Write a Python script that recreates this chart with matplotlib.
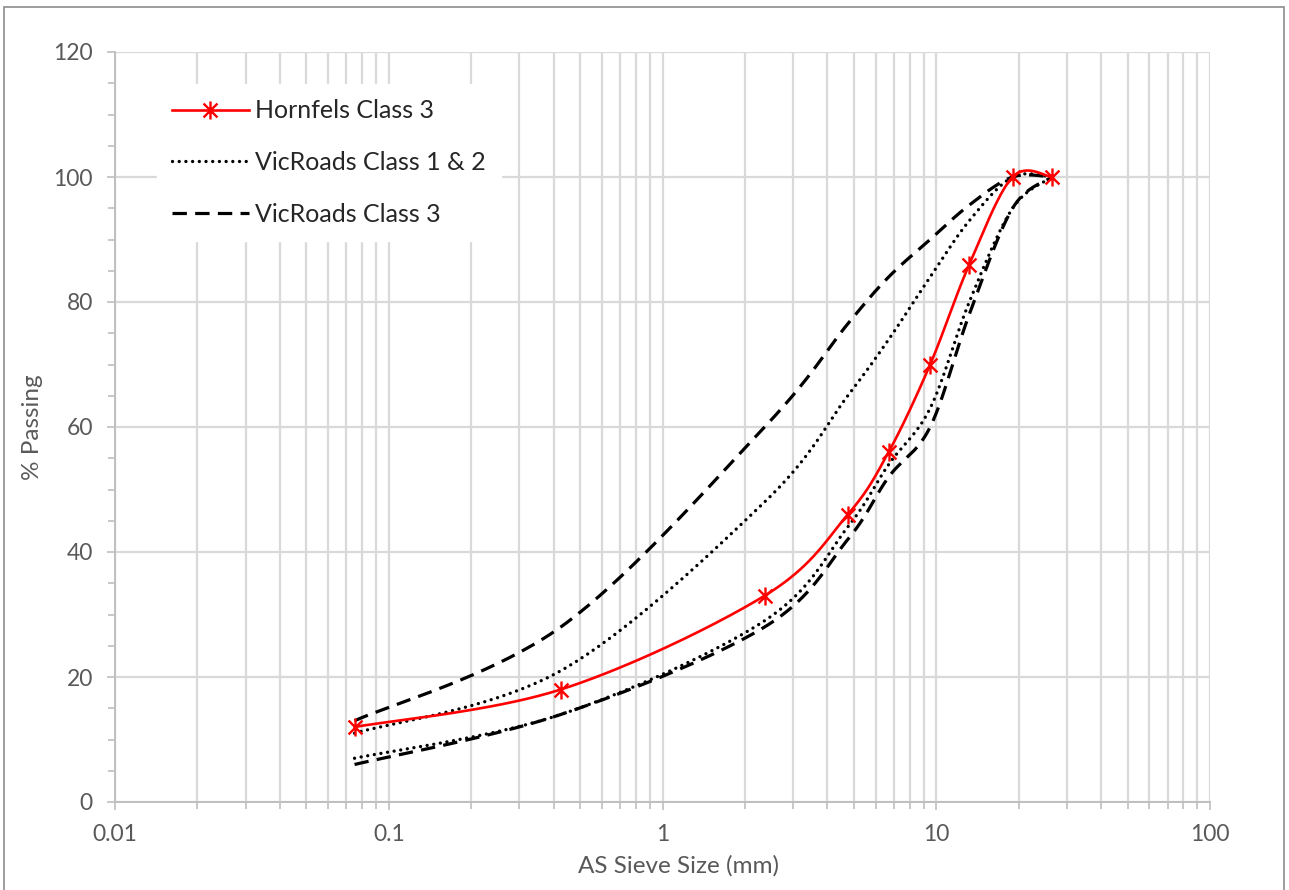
import numpy as np
import matplotlib
matplotlib.use("Agg")
import matplotlib.pyplot as plt
from matplotlib.path import Path
from matplotlib.patches import Rectangle
from matplotlib.ticker import FixedLocator, NullFormatter, FuncFormatter

# ---- data ----
sieve_mm = [0.075, 0.425, 2.36, 4.75, 6.7, 9.5, 13.2, 19.0, 26.5]
hornfels_c3 = [12, 18, 33, 46, 56, 70, 86, 100, 100]
vic12_upper = [11, 21, 48, 65, 74, 84, 93, 100, 100]
vic12_lower = [7, 14, 29, 44, 54, 63, 80, 95, 100]
vic3_upper = [13, 28, 60, 76.5, 84, 90, 95.5, 100, 100]
vic3_lower = [6, 14, 28, 42, 52, 60, 78, 95, 100]

x_ticks = [0.01, 0.1, 1, 10, 100]
x_ticklabels = ["0.01", "0.1", "1", "10", "100"]
y_ticks = [0, 20, 40, 60, 80, 100, 120]

FONT = "Lato"
GREY = "#595959"
plt.rcParams["font.family"] = [FONT, "DejaVu Sans"]


def smooth(xs, ys, n=40):
    """Excel-like smoothed line (uniform Catmull-Rom in log-x / y space)."""
    u = np.log10(np.asarray(xs, float))
    v = np.asarray(ys, float)
    P = np.column_stack([u, v])
    P = np.vstack([P[0], P, P[-1]])
    out = []
    t = np.linspace(0, 1, n)
    for i in range(1, len(P) - 2):
        p0, p1, p2, p3 = P[i - 1], P[i], P[i + 1], P[i + 2]
        c1 = p1 + (p2 - p0) / 6.0
        c2 = p2 - (p3 - p1) / 6.0
        seg = ((1 - t) ** 3)[:, None] * p1 + (3 * (1 - t) ** 2 * t)[:, None] * c1 \
            + (3 * (1 - t) * t ** 2)[:, None] * c2 + (t ** 3)[:, None] * p2
        out.append(seg if i == 1 else seg[1:])
    out = np.vstack(out)
    return 10 ** out[:, 0], out[:, 1]


W, H = 1289, 890
fig = plt.figure(figsize=(W / 100, H / 100), dpi=100)
ax = fig.add_axes([115 / W, 1 - 802 / H, (1210 - 115) / W, (802 - 52) / H])

# outer chart-area border
fig.patches.append(Rectangle((4 / W, -0.01), (1284 - 4) / W, 1.01 - 7 / H,
                             transform=fig.transFigure, fill=False,
                             edgecolor="#8c8c8c", linewidth=1.2))

ax.set_xscale("log")
ax.set_xlim(0.01, 100)
ax.set_ylim(0, 120)

# asterisk marker: X plus vertical bar
star = Path([(-1, -1), (1, 1), (-1, 1), (1, -1), (0, -1.3), (0, 1.3)],
            [Path.MOVETO, Path.LINETO, Path.MOVETO, Path.LINETO, Path.MOVETO, Path.LINETO])

dash_style = (0, (4.5, 2.6))
dot_style = (0, (0.01, 2.0))

xs, ys = smooth(sieve_mm, vic3_upper)
ax.plot(xs, ys, color="black", lw=2.3, linestyle=dash_style, zorder=3)
xs, ys = smooth(sieve_mm, vic3_lower)
ax.plot(xs, ys, color="black", lw=2.3, linestyle=dash_style, zorder=3)
xs, ys = smooth(sieve_mm, vic12_upper)
ax.plot(xs, ys, color="black", lw=2.4, linestyle=dot_style, dash_capstyle="round", zorder=3)
xs, ys = smooth(sieve_mm, vic12_lower)
ax.plot(xs, ys, color="black", lw=2.4, linestyle=dot_style, dash_capstyle="round", zorder=3)

xs, ys = smooth(sieve_mm, hornfels_c3)
ax.plot(xs, ys, color="#ff0000", lw=1.9, zorder=4)
ax.plot(sieve_mm, hornfels_c3, linestyle="none", marker=star, markersize=13,
        markeredgecolor="#ff0000", markeredgewidth=1.7, zorder=5)

# legend proxies
h1, = ax.plot([], [], color="#ff0000", lw=1.9, marker=star, markersize=13,
              markeredgecolor="#ff0000", markeredgewidth=1.7)
h2, = ax.plot([], [], color="black", lw=2.4, linestyle=dot_style, dash_capstyle="round")
h3, = ax.plot([], [], color="black", lw=2.3, linestyle=dash_style)
leg = ax.legend([h1, h2, h3], ["Hornfels Class 3", "VicRoads Class 1 & 2", "VicRoads Class 3"],
                loc="upper left", bbox_to_anchor=(0.038, 0.957), frameon=True,
                fancybox=False, framealpha=1, edgecolor="white", facecolor="white",
                fontsize=18, handlelength=3.1, handletextpad=0.25, labelspacing=1.15,
                borderpad=0.6, borderaxespad=0, labelcolor="#262626")
leg.set_zorder(6)

# grid
minor_x = [m * 10.0 ** e for e in range(-2, 2) for m in range(2, 10)]
ax.xaxis.set_major_locator(FixedLocator(x_ticks))
ax.xaxis.set_minor_locator(FixedLocator(minor_x))
ax.xaxis.set_major_formatter(FuncFormatter(lambda v, p: x_ticklabels[x_ticks.index(v)] if v in x_ticks else ""))
ax.xaxis.set_minor_formatter(NullFormatter())
ax.yaxis.set_major_locator(FixedLocator(y_ticks))
ax.yaxis.set_minor_locator(FixedLocator(list(range(0, 121, 5))))

ax.grid(True, which="major", axis="both", color="#d9d9d9", lw=1.6, zorder=0)
ax.grid(True, which="minor", axis="x", color="#d9d9d9", lw=1.6, zorder=0)
ax.set_axisbelow(True)

for s in ["top", "right"]:
    ax.spines[s].set_visible(False)
for s in ["left", "bottom"]:
    ax.spines[s].set_color("#bfbfbf")
    ax.spines[s].set_linewidth(1.4)

ax.tick_params(axis="both", which="both", direction="out", color="#bfbfbf", width=1.2,
               labelcolor=GREY, labelsize=16.5)
ax.tick_params(axis="both", which="major", length=6, pad=10)
ax.tick_params(axis="both", which="minor", length=5)

ax.set_xlabel("AS Sieve Size (mm)", fontsize=17.5, color=GREY)
ax.set_ylabel("% Passing", fontsize=17.5, color=GREY)
ax.xaxis.set_label_coords((678 - 115) / 1095, -(866 - 802) / 750, transform=ax.transAxes)
ax.yaxis.set_label_coords(-(115 - 33) / 1095, (802 - 427) / 750, transform=ax.transAxes)
ax.xaxis.label.set_va("center")
ax.yaxis.label.set_va("center")

fig.savefig("out.png", dpi=100)
